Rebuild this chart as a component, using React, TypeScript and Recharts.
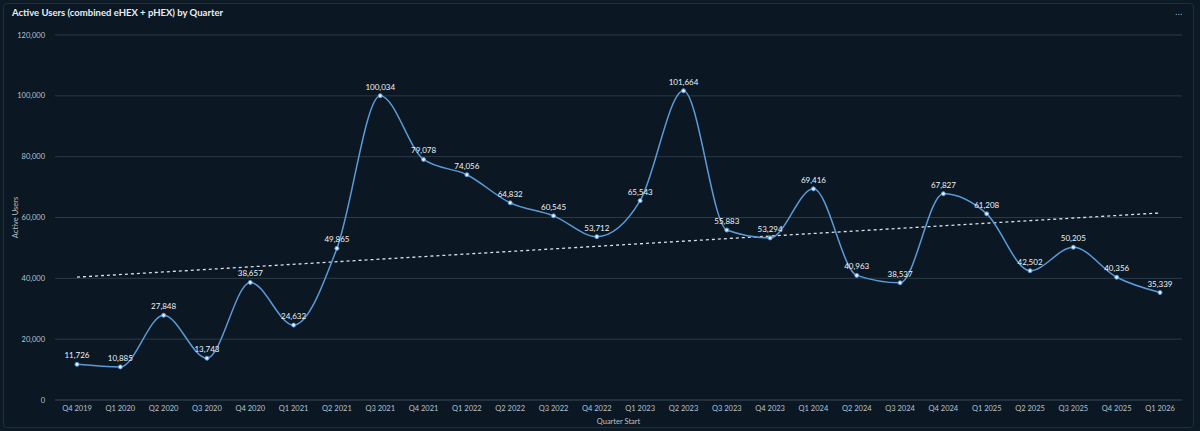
import React from 'react'
import { LineChart, Line, XAxis, YAxis, CartesianGrid, LabelList, ReferenceLine } from 'recharts'

const quarters = [
  'Q4 2019', 'Q1 2020', 'Q2 2020', 'Q3 2020', 'Q4 2020', 'Q1 2021', 'Q2 2021', 'Q3 2021', 'Q4 2021',
  'Q1 2022', 'Q2 2022', 'Q3 2022', 'Q4 2022', 'Q1 2023', 'Q2 2023', 'Q3 2023', 'Q4 2023',
  'Q1 2024', 'Q2 2024', 'Q3 2024', 'Q4 2024', 'Q1 2025', 'Q2 2025', 'Q3 2025', 'Q4 2025', 'Q1 2026',
]

const activeUsers = [
  11726, 10885, 27848, 13743, 38657, 24632, 49865, 100034, 79078,
  74056, 64832, 60545, 53712, 65543, 101664, 55883, 53294,
  69416, 40963, 38537, 67827, 61208, 42502, 50205, 40356, 35339,
]

const yTicks = [0, 20000, 40000, 60000, 80000, 100000, 120000]

// trend line end values
const trendStart = 40400
const trendEnd = 61500

const data = quarters.map((q, i) => ({ quarter: q, users: activeUsers[i] }))

const fmt = (v: number) => new Intl.NumberFormat('en-US').format(v)

const FONT = 'Lato, "Noto Sans", sans-serif'
const BG = '#0b1823'
const LINE = '#5b9ad6'

export default function App() {
  return (
    <div style={{ width: 1200, height: 431, background: '#0c1a25', position: 'relative', fontFamily: FONT }}>
      <style>{`body{margin:0;background:#0c1a25}`}</style>
      <div
        style={{
          position: 'absolute',
          left: 3,
          top: 3,
          width: 1189,
          height: 423,
          background: BG,
          border: '1px solid #1f2e3b',
          borderRadius: 4,
        }}
      />
      <div
        style={{
          position: 'absolute',
          left: 12,
          top: 7,
          color: '#e8edf2',
          fontSize: 9.5,
          fontWeight: 700,
        }}
      >
        Active Users (combined eHEX + pHEX) by Quarter
      </div>
      <div style={{ position: 'absolute', right: 17, top: 6, color: '#9aa6b2', fontSize: 9, letterSpacing: 0.5 }}>...</div>
      <div style={{ position: 'absolute', left: 0, top: 0 }}>
        <LineChart width={1200} height={431} data={data} margin={{ top: 35, right: 18, bottom: 0, left: 0 }}>
          <CartesianGrid vertical={false} stroke="#2b3a47" strokeWidth={1} />
          <XAxis
            dataKey="quarter"
            axisLine={{ stroke: '#2b3a47' }}
            tickLine={false}
            interval={0}
            height={31}
            padding={{ left: 22, right: 22 }}
            tick={{ fill: '#b8c2cc', fontSize: 7.5, fontFamily: FONT }}
            tickMargin={0}
            label={{ value: 'Quarter Start', position: 'insideBottom', offset: 7, fill: '#b8c2cc', fontSize: 7.5, fontFamily: FONT }}
          />
          <YAxis
            width={55}
            domain={[0, 120000]}
            ticks={yTicks}
            axisLine={false}
            tickLine={false}
            tickFormatter={fmt}
            tick={{ fill: '#b8c2cc', fontSize: 7.5, fontFamily: FONT }}
            tickMargin={4}
            label={{ value: 'Active Users', angle: -90, position: 'insideLeft', offset: 15, fill: '#b8c2cc', fontSize: 7.5, fontFamily: FONT, style: { textAnchor: 'middle' } }}
          />
          <ReferenceLine
            segment={[
              { x: quarters[0], y: trendStart },
              { x: quarters[quarters.length - 1], y: trendEnd },
            ]}
            stroke="#d8e2ec"
            strokeWidth={1.3}
            strokeDasharray="3 3"
            ifOverflow="visible"
          />
          <Line
            type="monotone"
            dataKey="users"
            stroke={LINE}
            strokeWidth={1.5}
            dot={{ r: 2, fill: '#e6f0fa', stroke: LINE, strokeWidth: 1 }}
            isAnimationActive={false}
          >
            <LabelList
              dataKey="users"
              position="top"
              offset={6}
              formatter={(v: any) => fmt(Number(v))}
              style={{ fill: '#eef2f6', fontSize: 8, fontFamily: FONT }}
            />
          </Line>
        </LineChart>
      </div>
    </div>
  )
}
